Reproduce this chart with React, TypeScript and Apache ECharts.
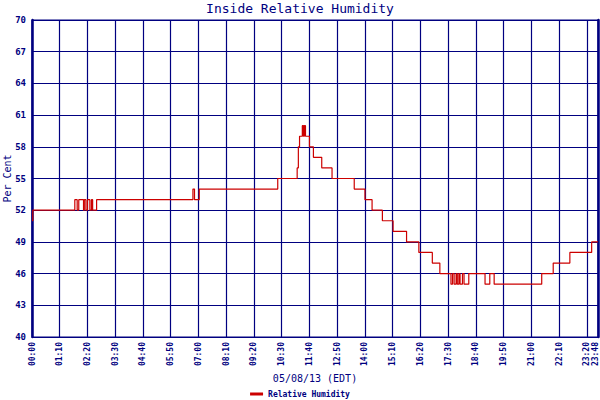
import React, { useEffect, useRef } from 'react';
import * as echarts from 'echarts';

// minutes since midnight at which the reading changed, and the new reading (%)
const changeMinutes = [
  0, 2, 108, 114, 118, 130, 132, 136, 140, 146, 150, 153, 163,
  406, 410, 422, 620, 669, 672, 675, 678, 682, 685, 687, 690, 700,
  710, 731, 757, 813, 840, 858, 884, 911, 945, 976, 1010, 1029,
  1057, 1061, 1065, 1070, 1073, 1077, 1080, 1086, 1090, 1102,
  1143, 1155, 1166, 1286, 1315, 1357, 1412, 1428,
];
const humidity = [
  51, 52, 53, 52, 53, 52, 53, 52, 53, 52, 53, 52, 53,
  54, 53, 54, 55, 56, 58, 59, 59, 60, 59, 60, 59, 58,
  57, 56, 55, 54, 53, 52, 51, 50, 49, 48, 47, 46,
  45, 46, 45, 46, 45, 46, 45, 46, 45, 46,
  45, 46, 45, 46, 47, 48, 49, 49,
];

const xMax = 1428; // 23:48
const xStep = 70;
const yMin = 40;
const yMax = 70;
const yStep = 3;

const navy = '#000080';
const mono = '"DejaVu Sans Mono", monospace';

const fmtTime = (m: number) => {
  const h = Math.floor(m / 60);
  const mm = Math.round(m % 60);
  return `${String(h).padStart(2, '0')}:${String(mm).padStart(2, '0')}`;
};

const App: React.FC = () => {
  const chartRef = useRef<HTMLDivElement>(null);

  useEffect(() => {
    if (!chartRef.current) return;
    const chart = echarts.init(chartRef.current, null, { renderer: 'svg' });

    const option = {
      animation: false,
      backgroundColor: '#ffffff',
      title: {
        text: 'Inside Relative Humidity',
        left: 'center',
        top: 0,
        padding: [2, 5],
        textStyle: { fontFamily: mono, fontSize: 13, fontWeight: 'normal', color: navy },
      },
      legend: {
        bottom: -3,
        left: 'center',
        icon: 'rect',
        itemWidth: 13,
        itemHeight: 3,
        itemGap: 4,
        textStyle: { fontFamily: mono, fontSize: 8, fontWeight: 'bold', color: navy },
        data: ['Relative Humidity'],
      },
      grid: {
        left: 32,
        right: 2,
        top: 20,
        bottom: 63,
        outerBoundsMode: 'none',
        containLabel: false,
        show: true,
        borderColor: navy,
        borderWidth: 1,
      },
      xAxis: {
        type: 'value',
        min: 0,
        max: xMax,
        interval: xStep,
        name: '05/08/13 (EDT)',
        nameLocation: 'middle',
        nameGap: 36,
        nameTextStyle: { fontFamily: mono, fontSize: 10, color: navy },
        axisLine: { show: true, lineStyle: { color: navy, width: 1 } },
        axisTick: { show: false },
        axisLabel: {
          rotate: 90,
          fontFamily: mono,
          fontSize: 8,
          fontWeight: 'bold',
          color: navy,
          margin: 5,
          showMaxLabel: true,
          formatter: (v: number) => (v === xMax ? `{last|${fmtTime(v)}}` : fmtTime(v)),
          rich: {
            last: {
              fontFamily: mono,
              fontSize: 8,
              fontWeight: 'bold',
              color: navy,
              padding: [0, 0, 5, 0],
            },
          },
        },
        splitLine: { show: true, lineStyle: { color: navy, width: 1.2 } },
      },
      yAxis: [
        {
          type: 'value',
          min: yMin,
          max: yMax,
          interval: yStep,
          name: 'Per Cent',
          nameLocation: 'middle',
          nameRotate: 90,
          nameGap: 20,
          nameMoveOverlap: false,
          nameTextStyle: { fontFamily: mono, fontSize: 10, color: navy },
          axisLine: { show: true, lineStyle: { color: navy, width: 2.5 } },
          axisTick: { show: false },
          axisLabel: {
            fontFamily: mono,
            fontSize: 9,
            fontWeight: 'bold',
            color: navy,
            margin: 6,
          },
          splitLine: { show: true, lineStyle: { color: navy, width: 1.2 } },
        },
        {
          type: 'value',
          position: 'right',
          min: yMin,
          max: yMax,
          interval: yStep,
          axisLine: { show: true, lineStyle: { color: navy, width: 2.5 } },
          axisTick: { show: false },
          axisLabel: { show: false },
          splitLine: { show: false },
        },
      ],
      series: [
        {
          name: 'Relative Humidity',
          type: 'line',
          step: 'end',
          yAxisIndex: 0,
          showSymbol: false,
          symbol: 'none',
          lineStyle: { color: '#cc0000', width: 1.2 },
          itemStyle: { color: '#cc0000' },
          data: changeMinutes.map((m, i) => [m, humidity[i]]),
        },
      ],
    };

    chart.setOption(option);

    return () => {
      chart.dispose();
    };
  }, []);

  return (
    <div
      ref={chartRef}
      style={{ position: 'fixed', left: 0, top: 0, width: '600px', height: '400px' }}
    />
  );
};

export default App;
